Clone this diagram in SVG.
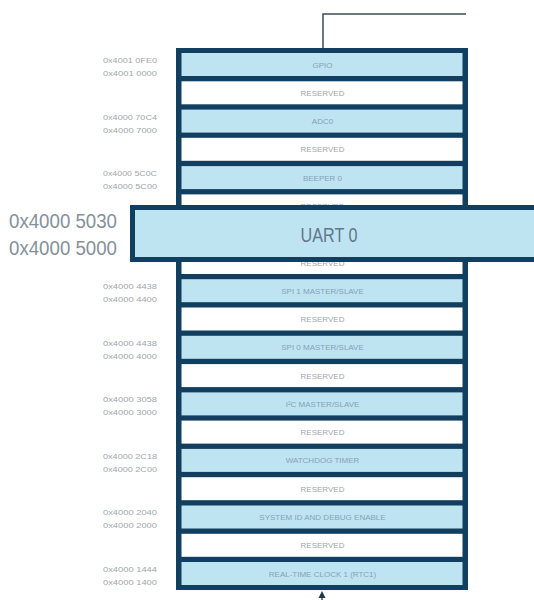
<svg xmlns="http://www.w3.org/2000/svg" width="534" height="600" viewBox="0 0 534 600">
<style>
.frame{fill:#123f5f}
.blue{fill:#bee4f2}
.res{fill:#ffffff}
.lbl{font-family:"Liberation Sans",Arial,sans-serif;font-size:8px;text-anchor:middle}
.lb{fill:#86a2b4}
.lr{fill:#a0a5aa}
.addr{font-family:"Liberation Sans",Arial,sans-serif;font-size:8px;fill:#a0a6ab;text-anchor:end}
.big{font-family:"Liberation Sans",Arial,sans-serif;font-size:20px;fill:#85919a;text-anchor:end}
.conn{fill:none;stroke:#3d4d58;stroke-width:1.5}
</style>
<rect width="534" height="600" fill="#ffffff"/>
<g id="connectors">
<path class="conn" d="M323 48 V14 H466"/>
<path class="conn" d="M322 596 V600"/>
<polygon points="322,591 318.5,598 325.5,598" fill="#1e3a4e"/>
</g>
<g id="memory-map">
<rect class="frame" x="176" y="48" width="292" height="542"/>
<g id="gpio"><rect class="blue" x="181.5" y="53" width="281" height="23"/><text class="lbl lb" x="322.5" y="67.5">GPIO</text><text class="addr" x="157" y="63" textLength="54" lengthAdjust="spacingAndGlyphs">0x4001 0FE0</text><text class="addr" x="157" y="76" textLength="54" lengthAdjust="spacingAndGlyphs">0x4001 0000</text></g>
<g id="res1"><rect class="res" x="181.5" y="81.3" width="281" height="23"/><text class="lbl lr" x="322.5" y="95.8">RESERVED</text></g>
<g id="adc0"><rect class="blue" x="181.5" y="109.6" width="281" height="23"/><text class="lbl lb" x="322.5" y="124.1">ADC0</text><text class="addr" x="157" y="119.5" textLength="54" lengthAdjust="spacingAndGlyphs">0x4000 70C4</text><text class="addr" x="157" y="132.5" textLength="54" lengthAdjust="spacingAndGlyphs">0x4000 7000</text></g>
<g id="res2"><rect class="res" x="181.5" y="137.8" width="281" height="23"/><text class="lbl lr" x="322.5" y="152.3">RESERVED</text></g>
<g id="beeper0"><rect class="blue" x="181.5" y="166.1" width="281" height="23"/><text class="lbl lb" x="322.5" y="180.6">BEEPER 0</text><text class="addr" x="157" y="176" textLength="54" lengthAdjust="spacingAndGlyphs">0x4000 5C0C</text><text class="addr" x="157" y="189" textLength="54" lengthAdjust="spacingAndGlyphs">0x4000 5C00</text></g>
<g id="res3"><rect class="res" x="181.5" y="194.4" width="281" height="23"/><text class="lbl lr" x="322.5" y="208.9">RESERVED</text></g>
<g id="uart0-row"><rect class="blue" x="181.5" y="222.7" width="281" height="23"/></g>
<g id="res4"><rect class="res" x="181.5" y="251" width="281" height="23"/><text class="lbl lr" x="322.5" y="265.5">RESERVED</text></g>
<g id="spi1"><rect class="blue" x="181.5" y="279.2" width="281" height="23"/><text class="lbl lb" x="322.5" y="293.7">SPI 1 MASTER/SLAVE</text><text class="addr" x="157" y="289" textLength="54" lengthAdjust="spacingAndGlyphs">0x4000 4438</text><text class="addr" x="157" y="302" textLength="54" lengthAdjust="spacingAndGlyphs">0x4000 4400</text></g>
<g id="res5"><rect class="res" x="181.5" y="307.5" width="281" height="23"/><text class="lbl lr" x="322.5" y="322">RESERVED</text></g>
<g id="spi0"><rect class="blue" x="181.5" y="335.8" width="281" height="23"/><text class="lbl lb" x="322.5" y="350.3">SPI 0 MASTER/SLAVE</text><text class="addr" x="157" y="345.5" textLength="54" lengthAdjust="spacingAndGlyphs">0x4000 4438</text><text class="addr" x="157" y="358.5" textLength="54" lengthAdjust="spacingAndGlyphs">0x4000 4000</text></g>
<g id="res6"><rect class="res" x="181.5" y="364.1" width="281" height="23"/><text class="lbl lr" x="322.5" y="378.6">RESERVED</text></g>
<g id="i2c"><rect class="blue" x="181.5" y="392.4" width="281" height="23"/><text class="lbl lb" x="322.5" y="406.9">I²C MASTER/SLAVE</text><text class="addr" x="157" y="402" textLength="54" lengthAdjust="spacingAndGlyphs">0x4000 3058</text><text class="addr" x="157" y="415" textLength="54" lengthAdjust="spacingAndGlyphs">0x4000 3000</text></g>
<g id="res7"><rect class="res" x="181.5" y="420.6" width="281" height="23"/><text class="lbl lr" x="322.5" y="435.1">RESERVED</text></g>
<g id="wdt"><rect class="blue" x="181.5" y="448.9" width="281" height="23"/><text class="lbl lb" x="322.5" y="463.4">WATCHDOG TIMER</text><text class="addr" x="157" y="458.5" textLength="54" lengthAdjust="spacingAndGlyphs">0x4000 2C18</text><text class="addr" x="157" y="471.5" textLength="54" lengthAdjust="spacingAndGlyphs">0x4000 2C00</text></g>
<g id="res8"><rect class="res" x="181.5" y="477.2" width="281" height="23"/><text class="lbl lr" x="322.5" y="491.7">RESERVED</text></g>
<g id="sysid"><rect class="blue" x="181.5" y="505.5" width="281" height="23"/><text class="lbl lb" x="322.5" y="520">SYSTEM ID AND DEBUG ENABLE</text><text class="addr" x="157" y="515" textLength="54" lengthAdjust="spacingAndGlyphs">0x4000 2040</text><text class="addr" x="157" y="528" textLength="54" lengthAdjust="spacingAndGlyphs">0x4000 2000</text></g>
<g id="res9"><rect class="res" x="181.5" y="533.8" width="281" height="23"/><text class="lbl lr" x="322.5" y="548.3">RESERVED</text></g>
<g id="rtc1"><rect class="blue" x="181.5" y="562" width="281" height="23"/><text class="lbl lb" x="322.5" y="576.5">REAL-TIME CLOCK 1 (RTC1)</text><text class="addr" x="157" y="571.5" textLength="54" lengthAdjust="spacingAndGlyphs">0x4000 1444</text><text class="addr" x="157" y="584.5" textLength="54" lengthAdjust="spacingAndGlyphs">0x4000 1400</text></g>
</g>
<g id="uart0-callout">
<rect x="132.5" y="207.5" width="410" height="52" fill="#bee4f2" stroke="#123f5f" stroke-width="5"/>
<text x="329" y="242" font-family="Liberation Sans,Arial,sans-serif" font-size="20" fill="#62778a" text-anchor="middle" textLength="57" lengthAdjust="spacingAndGlyphs">UART 0</text>
<text class="big" x="117" y="228" textLength="108" lengthAdjust="spacingAndGlyphs">0x4000 5030</text>
<text class="big" x="117" y="255" textLength="108" lengthAdjust="spacingAndGlyphs">0x4000 5000</text>
</g>
</svg>
